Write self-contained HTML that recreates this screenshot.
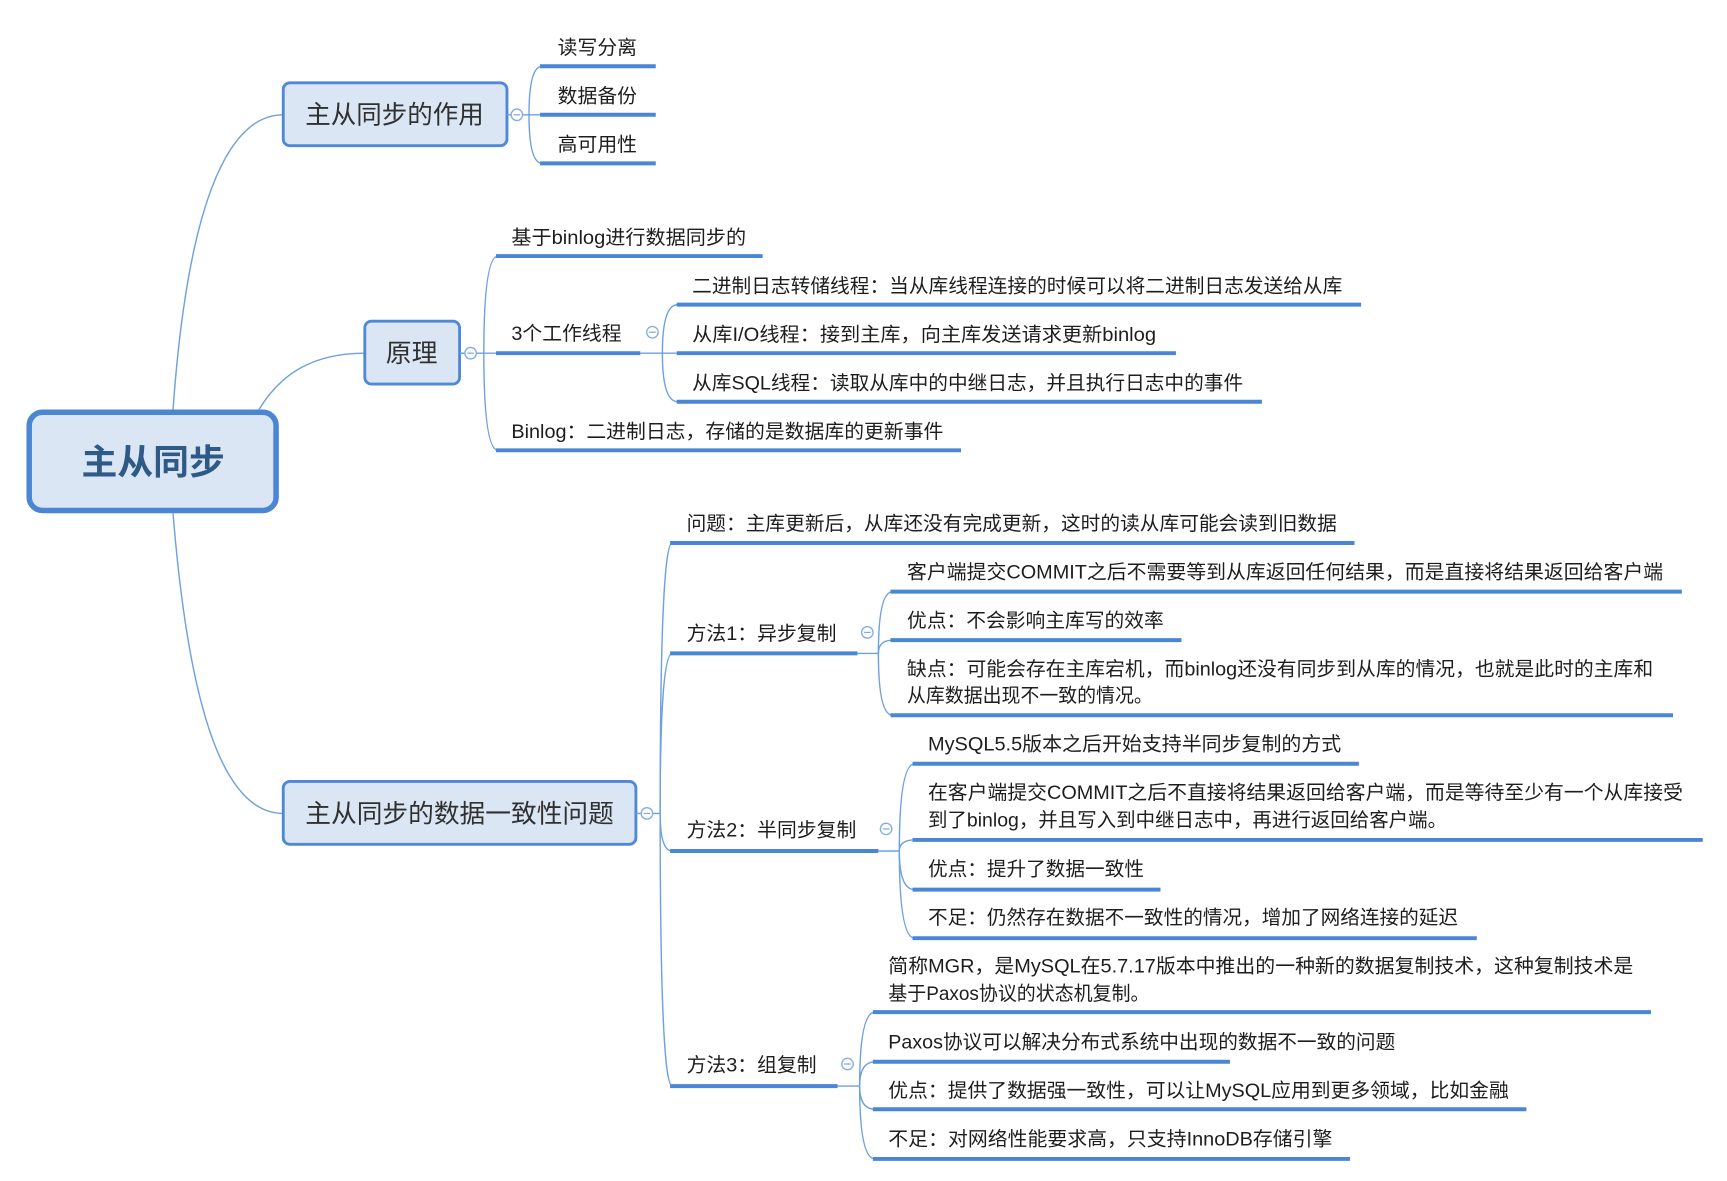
<!DOCTYPE html>
<html><head><meta charset="utf-8"><style>
html,body{margin:0;padding:0;background:#fff;}
svg{display:block;}
.t{font-family:"Liberation Sans","Noto Sans CJK SC",sans-serif;font-size:17.5px;fill:#1d1d1d;}
.b{font-family:"Liberation Sans","Noto Sans CJK SC",sans-serif;font-size:23px;fill:#303030;}
.u{stroke:#4a86d6;stroke-width:3.6;fill:none;}
.c{stroke:#6fa0e0;stroke-width:1.3;fill:none;}
.box{fill:#dbe6f4;stroke:#4f88d6;stroke-width:2.6;}
.cir{fill:#fff;stroke:#86abdf;stroke-width:1.2;}
.m{stroke:#86abdf;stroke-width:1.2;}
</style></head><body>
<svg width="1727" height="1181" viewBox="0 0 1567 1070" preserveAspectRatio="none" xmlns="http://www.w3.org/2000/svg">
<!-- root connectors -->
<path class="c" d="M157,371 C170,190 205,104 257,104"/>
<path class="c" d="M235,371 C255,338 285,320 331,320"/>
<path class="c" d="M157,465 C172,650 205,737 257,737"/>

<!-- root -->
<rect x="26.5" y="373.5" width="224" height="89" rx="12" fill="#dbe6f4" stroke="#4a86d4" stroke-width="5"/>
<text x="74" y="430" font-family="'Liberation Sans','Noto Sans CJK SC',sans-serif" font-size="32" font-weight="bold" fill="#2e5a88" textLength="130" lengthAdjust="spacingAndGlyphs">主从同步</text>

<!-- Box 1 -->
<rect class="box" x="257" y="75" width="203" height="57" rx="6"/>
<text class="b" x="277" y="112" textLength="162" lengthAdjust="spacingAndGlyphs">主从同步的作用</text>
<line class="c" x1="460" y1="104" x2="464" y2="104"/>
<line class="c" x1="474" y1="104" x2="490" y2="104"/>
<path class="c" d="M480,104 Q480,60 492,60"/>
<path class="c" d="M480,104 Q480,148 492,148"/>
<circle class="cir" cx="469" cy="104" r="5.2"/><line class="m" x1="466" y1="104" x2="472" y2="104"/>
<line class="u" x1="490" y1="60" x2="595" y2="60"/>
<line class="u" x1="490" y1="104" x2="595" y2="104"/>
<line class="u" x1="490" y1="148" x2="595" y2="148"/>
<text class="t" x="506" y="49" textLength="72" lengthAdjust="spacingAndGlyphs">读写分离</text>
<text class="t" x="506" y="93" textLength="72" lengthAdjust="spacingAndGlyphs">数据备份</text>
<text class="t" x="506" y="137" textLength="72" lengthAdjust="spacingAndGlyphs">高可用性</text>

<!-- Box 原理 -->
<rect class="box" x="331" y="291" width="86" height="57" rx="6"/>
<text class="b" x="350" y="328" textLength="47" lengthAdjust="spacingAndGlyphs">原理</text>
<line class="c" x1="417" y1="320" x2="422" y2="320"/>
<line class="c" x1="432" y1="320" x2="450" y2="320"/>
<path class="c" d="M439,320 Q439,232 452,232"/>
<path class="c" d="M439,320 Q439,408 452,408"/>
<circle class="cir" cx="427" cy="320" r="5.2"/><line class="m" x1="424" y1="320" x2="430" y2="320"/>
<line class="u" x1="450" y1="232" x2="692" y2="232"/>
<line class="u" x1="450" y1="320" x2="581" y2="320"/>
<line class="u" x1="450" y1="408" x2="872" y2="408"/>
<text class="t" x="464" y="221" textLength="213" lengthAdjust="spacingAndGlyphs">基于binlog进行数据同步的</text>
<text class="t" x="464" y="308" textLength="100" lengthAdjust="spacingAndGlyphs">3个工作线程</text>
<text class="t" x="464" y="397" textLength="392" lengthAdjust="spacingAndGlyphs">Binlog：二进制日志，存储的是数据库的更新事件</text>

<!-- 3个工作线程 children -->
<circle class="cir" cx="592" cy="301" r="5.2"/><line class="m" x1="589" y1="301" x2="595" y2="301"/>
<line class="c" x1="581" y1="320" x2="614" y2="320"/>
<path class="c" d="M601,320 Q601,276 615,276"/>
<path class="c" d="M601,320 Q601,364 615,364"/>
<line class="u" x1="614" y1="276" x2="1235" y2="276"/>
<line class="u" x1="614" y1="320" x2="1067" y2="320"/>
<line class="u" x1="614" y1="364" x2="1145" y2="364"/>
<text class="t" x="628" y="265" textLength="590" lengthAdjust="spacingAndGlyphs">二进制日志转储线程：当从库线程连接的时候可以将二进制日志发送给从库</text>
<text class="t" x="628" y="309" textLength="421" lengthAdjust="spacingAndGlyphs">从库I/O线程：接到主库，向主库发送请求更新binlog</text>
<text class="t" x="628" y="353" textLength="500" lengthAdjust="spacingAndGlyphs">从库SQL线程：读取从库中的中继日志，并且执行日志中的事件</text>

<!-- Box 3 -->
<rect class="box" x="257" y="708" width="320" height="57" rx="6"/>
<text class="b" x="277" y="745" textLength="280" lengthAdjust="spacingAndGlyphs">主从同步的数据一致性问题</text>
<line class="c" x1="577" y1="737" x2="582" y2="737"/>
<line class="c" x1="592" y1="737" x2="599" y2="737"/>
<path class="c" d="M599,737 Q599,492 610,492"/>
<path class="c" d="M599,737 Q599,592 610,592"/>
<path class="c" d="M599,737 Q599,771 610,771"/>
<path class="c" d="M599,737 Q599,984 610,984"/>
<circle class="cir" cx="587" cy="737" r="5.2"/><line class="m" x1="584" y1="737" x2="590" y2="737"/>
<line class="u" x1="608" y1="492" x2="1229" y2="492"/>
<line class="u" x1="608" y1="592" x2="778" y2="592"/>
<line class="u" x1="608" y1="771" x2="797" y2="771"/>
<line class="u" x1="608" y1="984" x2="760" y2="984"/>
<text class="t" x="623" y="480" textLength="590" lengthAdjust="spacingAndGlyphs">问题：主库更新后，从库还没有完成更新，这时的读从库可能会读到旧数据</text>
<text class="t" x="623" y="580" textLength="136" lengthAdjust="spacingAndGlyphs">方法1：异步复制</text>
<text class="t" x="623" y="758" textLength="154" lengthAdjust="spacingAndGlyphs">方法2：半同步复制</text>
<text class="t" x="623" y="971" textLength="118" lengthAdjust="spacingAndGlyphs">方法3：组复制</text>

<!-- 方法1 -->
<circle class="cir" cx="787" cy="573" r="5.2"/><line class="m" x1="784" y1="573" x2="790" y2="573"/>
<line class="c" x1="778" y1="592" x2="797" y2="592"/>
<path class="c" d="M797,592 Q797,536 810,536"/>
<path class="c" d="M797,592 Q797,580 810,580"/>
<path class="c" d="M797,592 Q797,648 810,648"/>
<line class="u" x1="808" y1="536" x2="1526" y2="536"/>
<line class="u" x1="808" y1="580" x2="1072" y2="580"/>
<line class="u" x1="808" y1="648" x2="1518" y2="648"/>
<text class="t" x="823" y="524" textLength="686" lengthAdjust="spacingAndGlyphs">客户端提交COMMIT之后不需要等到从库返回任何结果，而是直接将结果返回给客户端</text>
<text class="t" x="823" y="568" textLength="233" lengthAdjust="spacingAndGlyphs">优点：不会影响主库写的效率</text>
<text class="t" x="823" y="612" textLength="677" lengthAdjust="spacingAndGlyphs">缺点：可能会存在主库宕机，而binlog还没有同步到从库的情况，也就是此时的主库和</text>
<text class="t" x="823" y="636" textLength="223" lengthAdjust="spacingAndGlyphs">从库数据出现不一致的情况。</text>

<!-- 方法2 -->
<circle class="cir" cx="804" cy="751" r="5.2"/><line class="m" x1="801" y1="751" x2="807" y2="751"/>
<line class="c" x1="797" y1="771" x2="816" y2="771"/>
<path class="c" d="M816,771 Q816,692 830,692"/>
<path class="c" d="M816,771 Q816,761 830,761"/>
<path class="c" d="M816,771 Q816,806 830,806"/>
<path class="c" d="M816,771 Q816,850 830,850"/>
<line class="u" x1="828" y1="692" x2="1233" y2="692"/>
<line class="u" x1="828" y1="761" x2="1545" y2="761"/>
<line class="u" x1="828" y1="806" x2="1053" y2="806"/>
<line class="u" x1="828" y1="850" x2="1340" y2="850"/>
<text class="t" x="842" y="680" textLength="375" lengthAdjust="spacingAndGlyphs">MySQL5.5版本之后开始支持半同步复制的方式</text>
<text class="t" x="842" y="724" textLength="685" lengthAdjust="spacingAndGlyphs">在客户端提交COMMIT之后不直接将结果返回给客户端，而是等待至少有一个从库接受</text>
<text class="t" x="842" y="749" textLength="471" lengthAdjust="spacingAndGlyphs">到了binlog，并且写入到中继日志中，再进行返回给客户端。</text>
<text class="t" x="842" y="793" textLength="196" lengthAdjust="spacingAndGlyphs">优点：提升了数据一致性</text>
<text class="t" x="842" y="837" textLength="481" lengthAdjust="spacingAndGlyphs">不足：仍然存在数据不一致性的情况，增加了网络连接的延迟</text>

<!-- 方法3 -->
<circle class="cir" cx="769" cy="964" r="5.2"/><line class="m" x1="766" y1="964" x2="772" y2="964"/>
<line class="c" x1="760" y1="984" x2="780" y2="984"/>
<path class="c" d="M780,984 Q780,917 794,917"/>
<path class="c" d="M780,984 Q780,962 794,962"/>
<path class="c" d="M780,984 Q780,1005 794,1005"/>
<path class="c" d="M780,984 Q780,1050 794,1050"/>
<line class="u" x1="792" y1="917" x2="1498" y2="917"/>
<line class="u" x1="792" y1="962" x2="1116" y2="962"/>
<line class="u" x1="792" y1="1005" x2="1385" y2="1005"/>
<line class="u" x1="792" y1="1050" x2="1225" y2="1050"/>
<text class="t" x="806" y="881" textLength="676" lengthAdjust="spacingAndGlyphs">简称MGR，是MySQL在5.7.17版本中推出的一种新的数据复制技术，这种复制技术是</text>
<text class="t" x="806" y="906" textLength="237" lengthAdjust="spacingAndGlyphs">基于Paxos协议的状态机复制。</text>
<text class="t" x="806" y="950" textLength="460" lengthAdjust="spacingAndGlyphs">Paxos协议可以解决分布式系统中出现的数据不一致的问题</text>
<text class="t" x="806" y="994" textLength="563" lengthAdjust="spacingAndGlyphs">优点：提供了数据强一致性，可以让MySQL应用到更多领域，比如金融</text>
<text class="t" x="806" y="1038" textLength="403" lengthAdjust="spacingAndGlyphs">不足：对网络性能要求高，只支持InnoDB存储引擎</text>
</svg>
</body></html>
